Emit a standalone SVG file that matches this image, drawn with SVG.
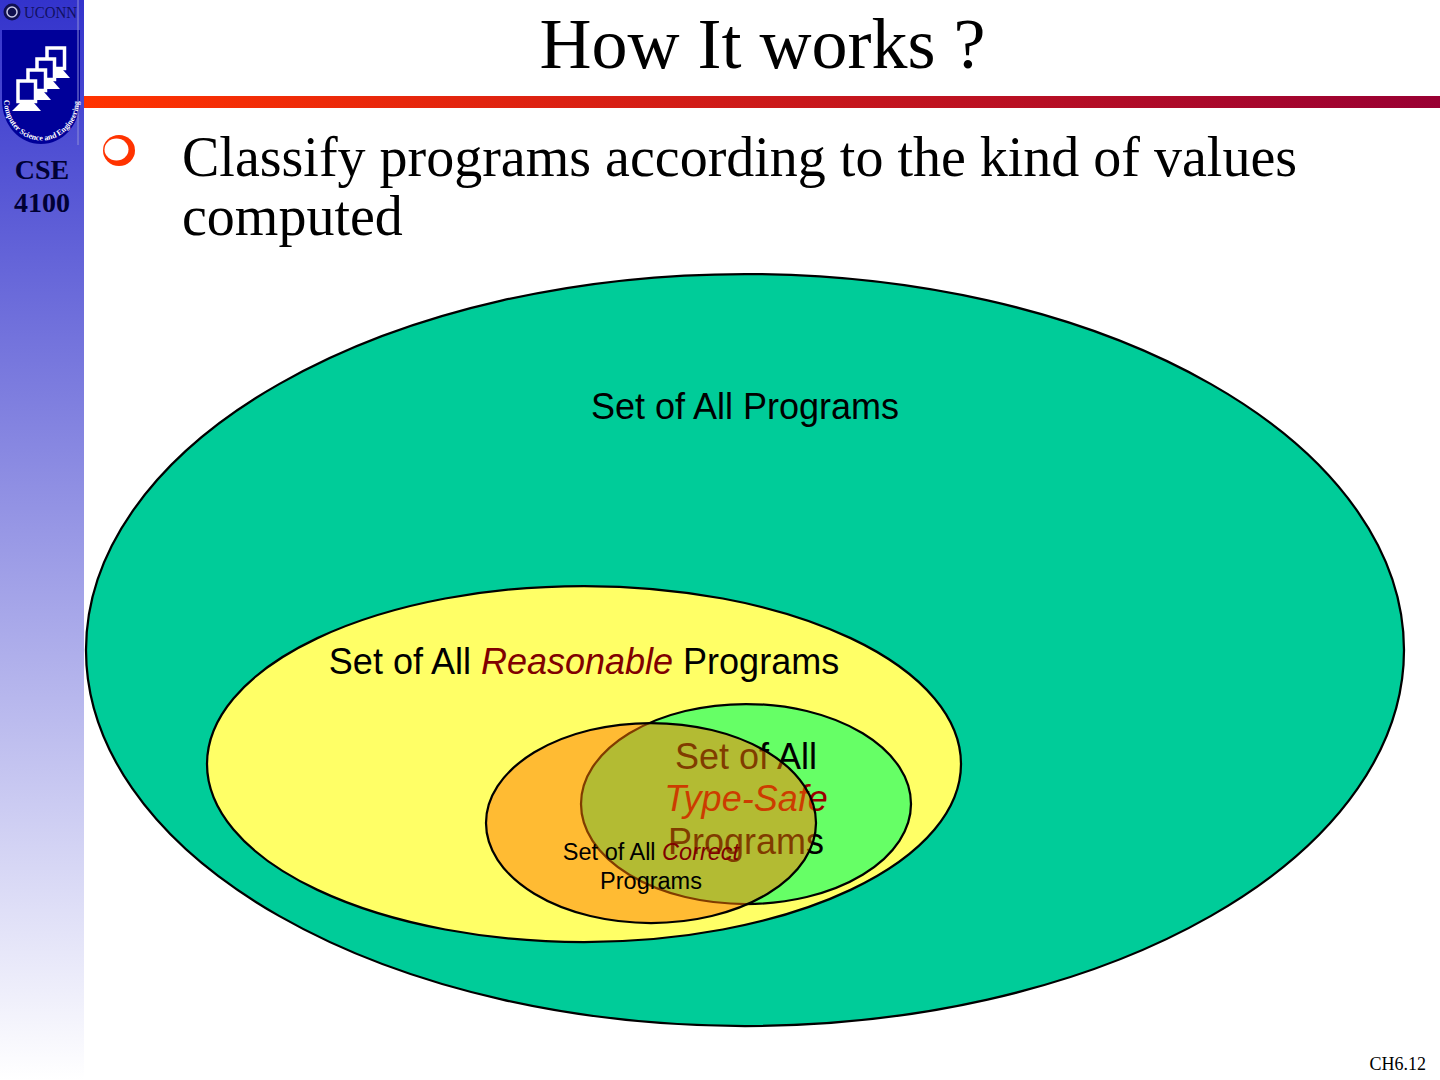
<svg xmlns="http://www.w3.org/2000/svg" width="1440" height="1080" viewBox="0 0 1440 1080">
<style>
.s{font-family:"Liberation Serif","Times New Roman",serif}
.a{font-family:"Liberation Sans",Arial,sans-serif}
.m{text-anchor:middle}
.e{stroke:#000;stroke-width:2.250}
</style>
<defs>
<linearGradient id="side" x1="0" y1="0" x2="0" y2="1"><stop offset="0" stop-color="#3333cc"/><stop offset="1" stop-color="#ffffff"/></linearGradient>
<linearGradient id="bar" x1="0" y1="0" x2="1" y2="0"><stop offset="0" stop-color="#ff3300"/><stop offset="1" stop-color="#990033"/></linearGradient>
<path id="arc" d="M4 100 A37 40 0 0 0 79 100"/>
<g id="pc"><path d="M2 22 H16 L23 30 H-6Z" fill="#fff"/><rect x="0" y="0" width="17.500" height="20.500" fill="#000099" stroke="#fff" stroke-width="3.500"/></g>
</defs>
<rect width="84" height="1080" fill="url(#side)"/>
<rect x="84" y="96" width="1356" height="12" fill="url(#bar)"/>
<g id="logo">
<path d="M2 30 L80 30 L80 100 C80 126 62 144 41 144 C20 144 2 126 2 100Z" fill="#000099"/>
<path d="M78 0V145" stroke="#8f8fd8" stroke-width="1" fill="none"/>
<use href="#pc" x="47" y="48"/><use href="#pc" x="37" y="59"/><use href="#pc" x="28" y="70"/><use href="#pc" x="18" y="81"/>
<circle cx="12" cy="12" r="8.500" fill="#101050"/><circle cx="12" cy="12" r="5" fill="none" stroke="#c8c8e8" stroke-width="1.500"/>
<text x="50.500" y="18" class="s m" font-size="17" fill="#101060" textLength="53" lengthAdjust="spacingAndGlyphs">UCONN</text>
<text class="s" font-size="8" font-weight="bold" fill="#fff"><textPath href="#arc">Computer Science and Engineering</textPath></text>
</g>
<text x="42" y="179" class="s m" font-size="28" font-weight="bold" fill="#000033">CSE</text>
<text x="42" y="212" class="s m" font-size="28" font-weight="bold" fill="#000033">4100</text>
<text x="762.500" y="68" class="s m" font-size="72" fill="#000">How It works ?</text>
<ellipse cx="119" cy="150.500" rx="16" ry="15.500" fill="#ff3300"/><ellipse cx="116.500" cy="149.500" rx="12" ry="11" fill="#fff"/>
<text x="182" y="176" class="s" font-size="56" fill="#000">Classify programs according to the kind of values</text>
<text x="182" y="235" class="s" font-size="56" fill="#000">computed</text>
<g id="all"><ellipse cx="745" cy="650" rx="659" ry="376" fill="#00cc99" class="e"/>
<text x="745" y="419" class="a m" font-size="36" fill="#000">Set of All Programs</text></g>
<g id="reasonable"><ellipse cx="584" cy="764" rx="377" ry="178" fill="#ffff66" class="e"/>
<text x="584" y="674" class="a m" font-size="36" fill="#000">Set of All <tspan font-style="italic" fill="#800000">Reasonable</tspan> Programs</text></g>
<g id="typesafe"><ellipse cx="746" cy="804" rx="165" ry="100" fill="#66ff66" class="e"/>
<text x="746" y="769" class="a m" font-size="36" fill="#000">Set of All</text>
<text x="746" y="811" class="a m" font-size="36" font-style="italic" fill="#990000">Type-Safe</text>
<text x="746" y="854" class="a m" font-size="36" fill="#000">Programs</text></g>
<g id="correct"><ellipse cx="651" cy="823" rx="165" ry="100" fill="#ff7700" fill-opacity=".5" class="e"/>
<text x="651" y="860" class="a m" font-size="23.500" fill="#000">Set of All <tspan font-style="italic" fill="#800000">Correct</tspan></text>
<text x="651" y="889" class="a m" font-size="23.500" fill="#000">Programs</text></g>
<text x="1426" y="1070" class="s" font-size="18" text-anchor="end" fill="#000">CH6.12</text>
</svg>
